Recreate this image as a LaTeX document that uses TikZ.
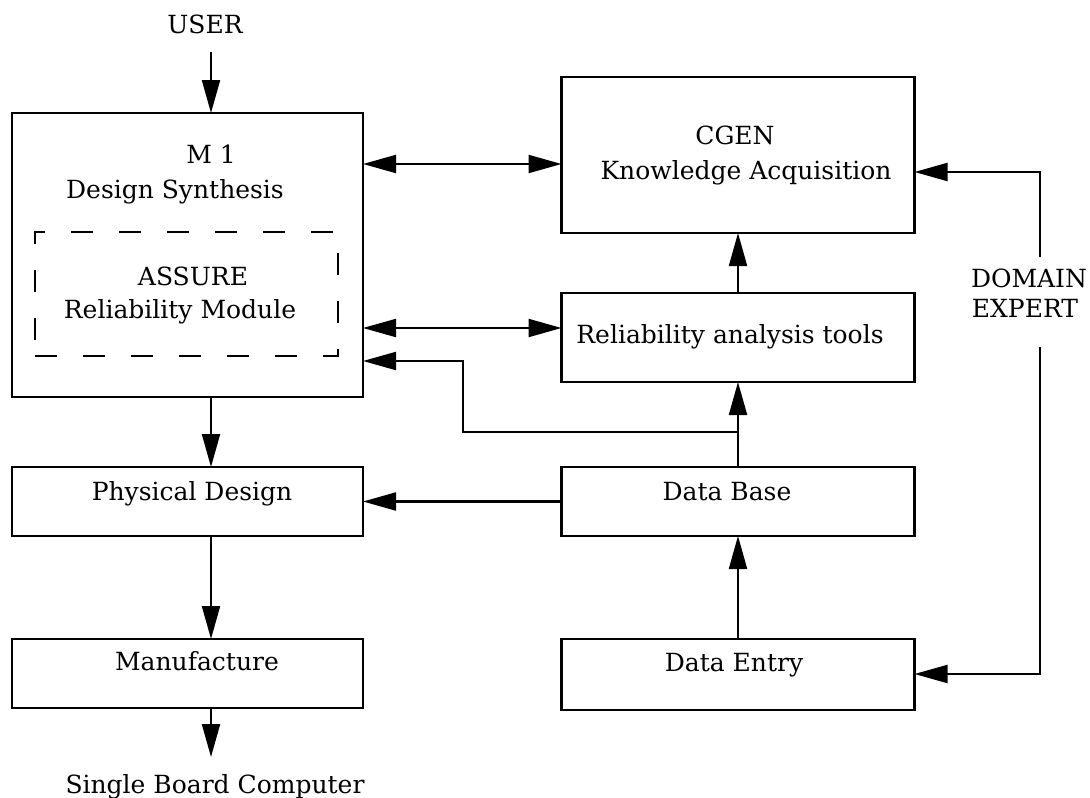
\documentclass[tikz,border=0pt]{standalone}
\usepackage{fontspec}
\setmainfont{DejaVu Serif}
\usetikzlibrary{arrows.meta}
\begin{document}
\begin{tikzpicture}[x=1pt,y=-1pt,
  box/.style={draw,line width=2.4pt,inner sep=0pt,outer sep=0pt},
  dashbox/.style={draw,line width=2pt,dash pattern=on 22pt off 26pt,inner sep=0pt,outer sep=0pt},
  lbl/.style={anchor=base,inner sep=0pt,font=\fontsize{25}{30}\selectfont},
  conn/.style={line width=2.1pt},
  arr/.style={conn,-{Triangle[length=33pt,width=18pt]}},
  darr/.style={conn,{Triangle[length=33pt,width=18pt]}-{Triangle[length=33pt,width=18pt]}}]
  \useasboundingbox (0,0) rectangle (1090,798);

  % boxes
  \node[box,minimum width=351pt,minimum height=284pt] (m1) at (187.5,255) {};
  \node[dashbox,minimum width=303pt,minimum height=124pt] (assure) at (186.5,294) {};
  \node[box,minimum width=353pt,minimum height=156pt] (cgen) at (738,155) {};
  \node[box,minimum width=353pt,minimum height=89pt] (rel) at (738,337.5) {};
  \node[box,minimum width=353pt,minimum height=69pt] (db) at (738,501.5) {};
  \node[box,minimum width=351pt,minimum height=69pt] (phys) at (187.5,501.5) {};
  \node[box,minimum width=351pt,minimum height=69pt] (manu) at (187.5,673.5) {};
  \node[box,minimum width=353pt,minimum height=71pt] (de) at (738,674.5) {};

  % labels
  \node[lbl] (tuser) at (205,33) {USER};
  \node[lbl] (tm1) at (211,163) {M 1};
  \node[lbl] (tds) at (175,198) {Design Synthesis};
  \node[lbl] (tassure) at (193,285) {ASSURE};
  \node[lbl] (trm) at (180,318) {Reliability Module};
  \node[lbl] (tcgen) at (735,144) {CGEN};
  \node[lbl] (tka) at (746,179) {Knowledge Acquisition};
  \node[lbl] (trel) at (730,343) {Reliability analysis tools};
  \node[lbl] (tphys) at (192,500) {Physical Design};
  \node[lbl] (tdb) at (727,500) {Data Base};
  \node[lbl] (tmanu) at (197,670) {Manufacture};
  \node[lbl] (tde) at (734,671) {Data Entry};
  \node[lbl] (tsbc) at (215,793) {Single Board Computer};
  \node[lbl] (tdom) at (1029,287) {DOMAIN};
  \node[lbl] (texp) at (1025,317) {EXPERT};

  % free ends and bends
  \coordinate (uin) at (211,52);
  \coordinate (sbc) at (211,757);
  \coordinate (fb1) at (463,432);
  \coordinate (fb2) at (463,361);
  \coordinate (dtop) at (1040,257);
  \coordinate (dbot) at (1040,347);

  % connectors
  \draw[arr] (uin) -- (uin |- m1.north);
  \draw[darr] (m1.east |- 0,164) -- (cgen.west |- 0,164);
  \draw[darr] (m1.east |- 0,328) -- (rel.west |- 0,328);
  \draw[arr] (rel.north) -- (cgen.south);
  \draw[arr] (db.north) -- (rel.south);
  \draw[arr] (db.north |- fb1) -- (fb1) -- (fb2) -- (m1.east |- fb2);
  \draw[arr] (db.west) -- (phys.east);
  \draw[arr] (m1.south -| uin) -- (phys.north -| uin);
  \draw[arr] (phys.south -| uin) -- (manu.north -| uin);
  \draw[arr] (manu.south -| uin) -- (sbc);
  \draw[arr] (de.north) -- (db.south);
  \draw[arr] (dtop) -- (dtop |- 0,172) -- (cgen.east |- 0,172);
  \draw[arr] (dbot) -- (dbot |- 0,674) -- (de.east |- 0,674);
\end{tikzpicture}
\end{document}
